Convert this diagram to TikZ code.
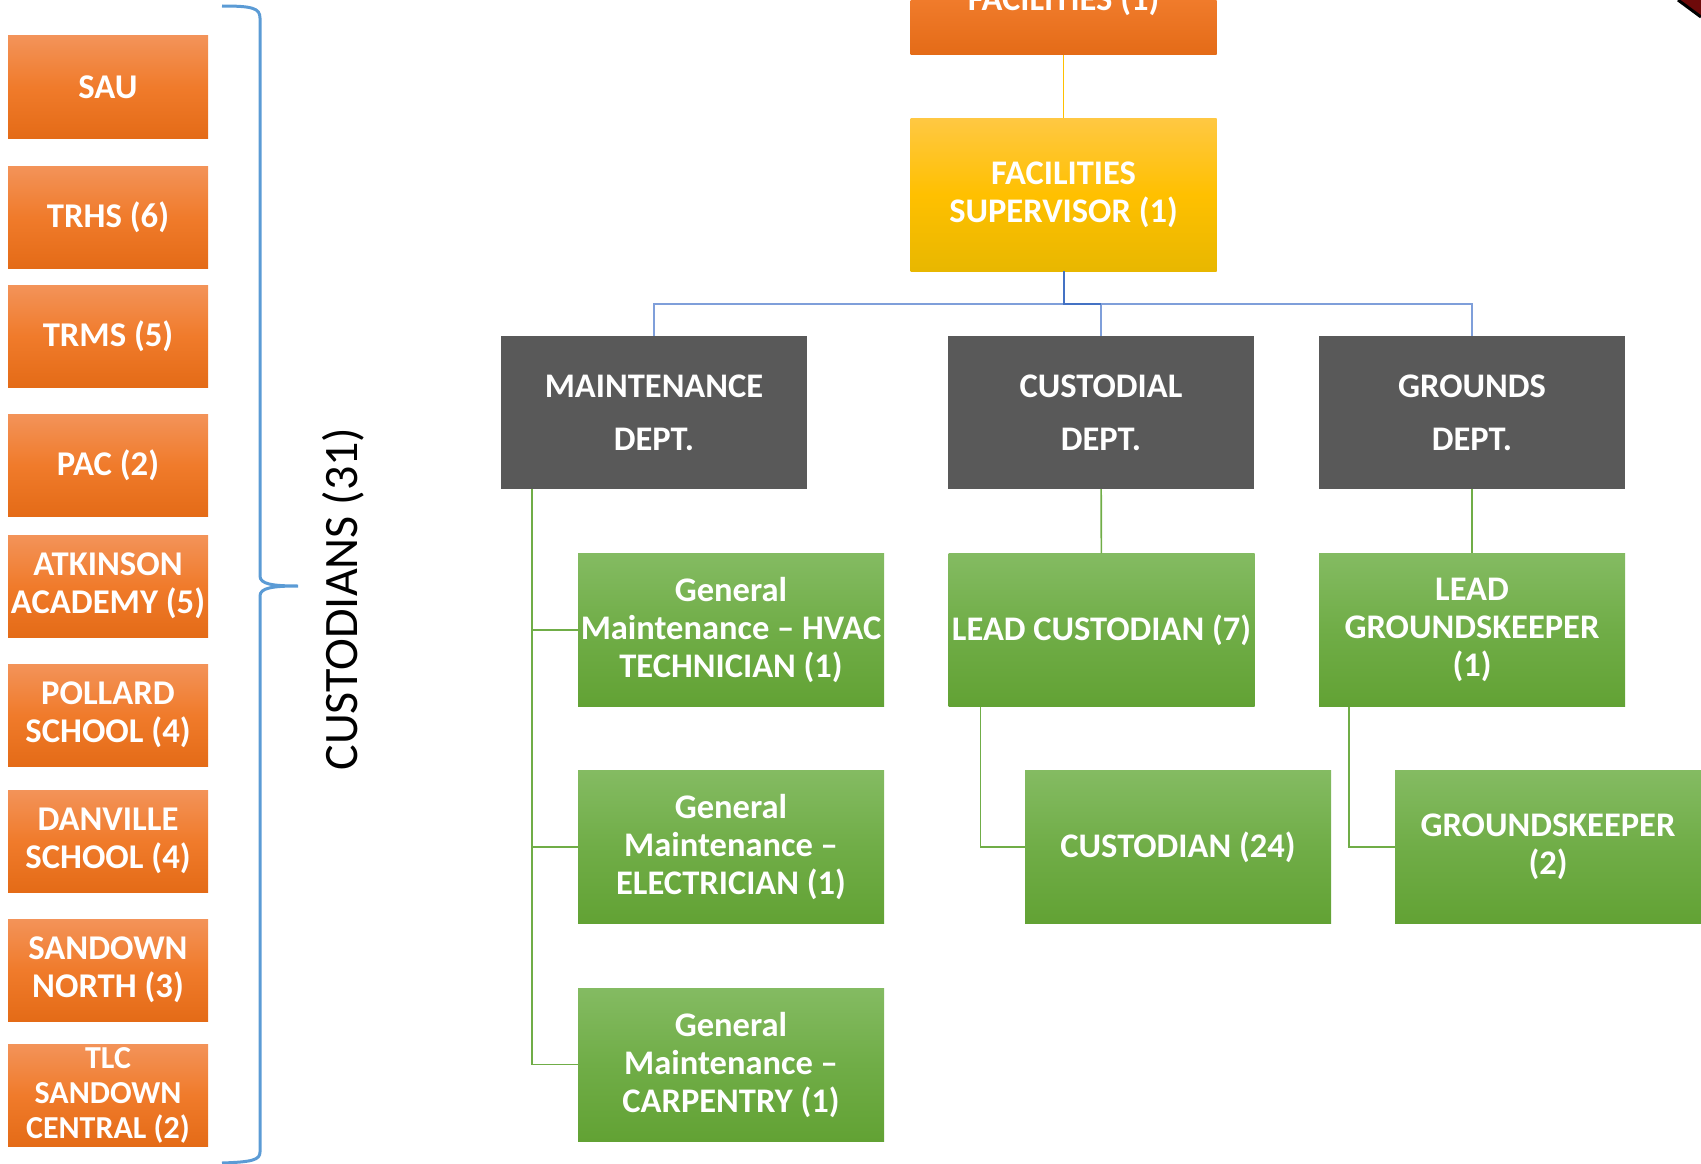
\documentclass[tikz,border=0pt]{standalone}
\usepackage{fontspec}
\setmainfont{Carlito}
\definecolor{orangetop}{HTML}{F39359}
\definecolor{orangemid}{HTML}{F07B2B}
\definecolor{orangebot}{HTML}{E46B17}
\definecolor{yellowtop}{HTML}{FFC843}
\definecolor{yellowmid}{HTML}{FFC000}
\definecolor{yellowbot}{HTML}{E8B700}
\definecolor{greentop}{HTML}{84BB62}
\definecolor{greenmid}{HTML}{70AD47}
\definecolor{greenbot}{HTML}{62A234}
\definecolor{deptgray}{HTML}{595959}
\definecolor{bracecol}{HTML}{5B9BD5}
\definecolor{bluedark}{HTML}{4472C4}
\definecolor{bluelight}{HTML}{7F9FDA}
\definecolor{darkred}{HTML}{6E0A0A}
\tikzset{
  sitebox/.style={rectangle, inner sep=0pt, minimum width=200pt, minimum height=102pt,
    top color=orangetop, bottom color=orangebot, middle color=orangemid,
    text=white, align=center, font=\bfseries\fontsize{34.7}{38}\selectfont},
  rolebox/.style={rectangle, inner sep=0pt, minimum width=306pt, minimum height=153pt,
    text=white, align=center, font=\bfseries\fontsize{34.5}{38}\selectfont},
  orangebox/.style={rolebox, top color=orangetop, bottom color=orangebot, middle color=orangemid},
  yellowbox/.style={rolebox, top color=yellowtop, bottom color=yellowbot, middle color=yellowmid},
  deptbox/.style={rolebox, fill=deptgray, font=\bfseries\fontsize{34.5}{53}\selectfont},
  greenbox/.style={rolebox, top color=greentop, bottom color=greenbot, middle color=greenmid},
  greenline/.style={draw=greenmid, line width=1.6pt},
  blueline/.style={draw=bluelight, line width=2pt}
}
\begin{document}
\begin{tikzpicture}[x=1pt, y=-1pt]
  \useasboundingbox (0,0) rectangle (1701,1164);
  \clip (0,0) rectangle (1701,1164);

  % school sites down the left side
  \foreach \y/\txt [count=\i] in {87/SAU, 217/{TRHS (6)}, 336/{TRMS (5)}, 465/{PAC (2)},
      586/{ATKINSON\\ACADEMY (5)}, 715/{POLLARD\\SCHOOL (4)}, 841/{DANVILLE\\SCHOOL (4)},
      970/{SANDOWN\\NORTH (3)}} {
    \node[sitebox] (site\i) at (108,\y) {\txt};
  }
  \node[sitebox, font=\bfseries\fontsize{32}{35}\selectfont] (site9) at (108,1095)
    {TLC\\SANDOWN\\CENTRAL (2)};

  % brace and its label
  \coordinate (tip) at (298,586);
  \draw[bracecol, line width=3pt] (222,6) .. controls (252,6) and (260,8) .. (260,18)
    -- (260,576) .. controls (260,584) and (272,586) .. (tip)
    .. controls (272,586) and (260,588) .. (260,596)
    -- (260,1152) .. controls (260,1160) and (252,1162) .. (222,1163);
  \node[rotate=90, font=\fontsize{48}{50}\selectfont] (count) at (343,599) {CUSTODIANS (31)};

  % chart
  \node[orangebox, minimum height=110pt] (fac) at (1063.5,0) {FACILITIES (1)};
  \node[yellowbox] (sup) at (1063.5,194.5) {FACILITIES\\SUPERVISOR (1)};
  \node[deptbox] (maint) at (654,412.5) {MAINTENANCE\\DEPT.};
  \node[deptbox] (cust) at (1101,412.5) {CUSTODIAL\\DEPT.};
  \node[deptbox] (grnd) at (1472,412.5) {GROUNDS\\DEPT.};
  \node[greenbox] (hvac) at (731,630) {General\\Maintenance – HVAC\\TECHNICIAN (1)};
  \node[greenbox] (elec) at (731,847) {General\\Maintenance –\\ELECTRICIAN (1)};
  \node[greenbox] (carp) at (731,1064.5) {General\\Maintenance –\\CARPENTRY (1)};
  \node[greenbox] (leadc) at (1101.5,630) {LEAD CUSTODIAN (7)};
  \node[greenbox] (leadg) at (1472,630) {LEAD\\GROUNDSKEEPER\\(1)};
  \node[greenbox] (custn) at (1178,847) {CUSTODIAN (24)};
  \node[greenbox] (grndk) at (1548,847) {GROUNDSKEEPER\\(2)};

  % connectors
  \draw[yellowmid, line width=1.6pt] (fac) -- (sup);
  \coordinate (bar) at (1063.5,304);
  \draw[blueline] (maint.north) |- (bar) -| (grnd.north);
  \draw[blueline] (cust.north) -- (cust.north |- bar);
  \draw[bluedark, line width=2pt] (sup.south) -- (bar) -- (cust.north |- bar);
  \foreach \n in {hvac,elec,carp} {
    \draw[greenline] ([xshift=31pt]maint.south west) |- (\n.west);
  }
  \draw[greenline] (cust) -- (leadc);
  \draw[greenline] (grnd) -- (leadg);
  \draw[greenline] ([xshift=32pt]leadc.south west) |- (custn.west);
  \draw[greenline] ([xshift=30pt]leadg.south west) |- (grndk.west);

  % corner of a shape cut off at the top right
  \fill[darkred] (1678,0) -- (1701,17) -- (1701,0) -- cycle;
  \draw[black, line width=3pt] (1678,0) -- (1701,17);
\end{tikzpicture}
\end{document}
